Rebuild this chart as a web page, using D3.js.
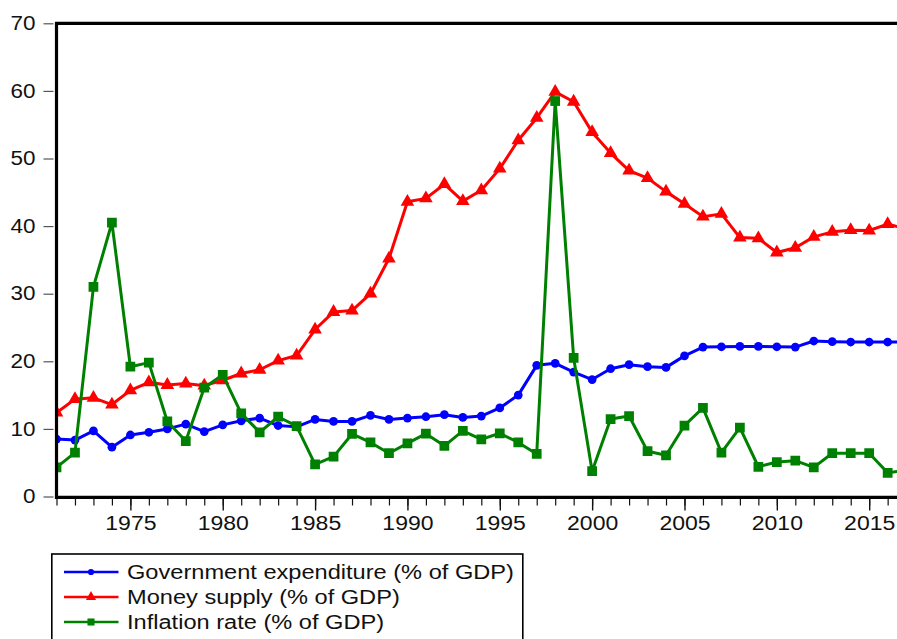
<!DOCTYPE html>
<html>
<head>
<meta charset="utf-8">
<script src="https://cdn.jsdelivr.net/npm/d3@7"></script>
<style>
  body { margin: 0; background: #fff; }
  svg { display: block; font-family: "Liberation Sans", Arial, sans-serif; }
</style>
</head>
<body>
<div id="chart"></div>
<script>
var years = [1971, 1972, 1973, 1974, 1975, 1976, 1977, 1978, 1979, 1980,
    1981, 1982, 1983, 1984, 1985, 1986, 1987, 1988, 1989, 1990,
    1991, 1992, 1993, 1994, 1995, 1996, 1997, 1998, 1999, 2000,
    2001, 2002, 2003, 2004, 2005, 2006, 2007, 2008, 2009, 2010,
    2011, 2012, 2013, 2014, 2015, 2016, 2017];

var govExpenditure = [8.5, 8.35, 9.7, 7.3, 9.1, 9.5, 10.0, 10.7, 9.6, 10.6,
    11.2, 11.6, 10.5, 10.3, 11.4, 11.1, 11.1, 12.0, 11.4, 11.6,
    11.8, 12.1, 11.7, 11.9, 13.1, 15.0, 19.4, 19.7, 18.4, 17.3,
    18.9, 19.5, 19.2, 19.1, 20.8, 22.1, 22.15, 22.2, 22.2, 22.15,
    22.1, 23.0, 22.9, 22.85, 22.85, 22.85, 22.85];

var moneySupply = [12.4, 14.4, 14.6, 13.6, 15.7, 16.9, 16.5, 16.7, 16.4, 17.2,
    18.2, 18.75, 20.1, 20.85, 24.7, 27.3, 27.5, 30.0, 35.2, 43.6,
    44.1, 46.2, 43.7, 45.3, 48.5, 52.7, 56.0, 59.85, 58.4, 53.9,
    50.8, 48.2, 47.1, 45.1, 43.3, 41.4, 41.8, 38.3, 38.2, 36.1,
    36.8, 38.4, 39.15, 39.4, 39.35, 40.3, 39.6];

var inflation = [4.3, 6.5, 31.0, 40.5, 19.2, 19.8, 11.1, 8.2, 16.1, 18.0,
    12.3, 9.5, 11.8, 10.4, 4.75, 5.9, 9.25, 8.0, 6.4, 7.85,
    9.3, 7.5, 9.7, 8.45, 9.35, 8.0, 6.3, 58.5, 20.5, 3.75,
    11.45, 11.9, 6.7, 6.1, 10.5, 13.1, 6.5, 10.2, 4.4, 5.1,
    5.3, 4.3, 6.4, 6.4, 6.4, 3.5, 3.9];

var yTicks = [0, 10, 20, 30, 40, 50, 60, 70];
var xMajorTicks = [1975, 1980, 1985, 1990, 1995, 2000, 2005, 2010, 2015];

var seriesNames = ['Government expenditure (% of GDP)', 'Money supply (% of GDP)', 'Inflation rate (% of GDP)'];
var seriesColors = ['#0000ff', '#ff0000', '#008000'];
var seriesSymbols = [d3.symbolCircle, d3.symbolTriangle, d3.symbolSquare];
var seriesValues = [govExpenditure, moneySupply, inflation];

var width = 897, height = 639;
var plot = { left: 56.5, top: 23.3, bottom: 496.5 };
var yearStep = 18.47;

// the reference text is drawn a bit wider than Arial
function widen(stretch) {
    return function (sel) {
        sel.each(function () {
            var len = this.getComputedTextLength();
            d3.select(this).attr('textLength', len * stretch).attr('lengthAdjust', 'spacingAndGlyphs');
        });
    };
}

function createChart() {
    var svg = d3.select('#chart').append('svg')
        .attr('width', width)
        .attr('height', height);

    var x = d3.scaleLinear()
        .domain([years[0], years[years.length - 1]])
        .range([plot.left, plot.left + (years.length - 1) * yearStep]);
    var y = d3.scaleLinear()
        .domain([0, 70])
        .range([plot.bottom, plot.top]);

    svg.append('clipPath').attr('id', 'plotClip')
        .append('rect')
        .attr('x', plot.left).attr('y', 0)
        .attr('width', width).attr('height', plot.bottom + 2);

    // y axis ticks and labels
    var yAxis = svg.append('g')
        .attr('transform', 'translate(53.5,0)')
        .call(d3.axisLeft(y).tickValues(yTicks).tickSize(10).tickPadding(8).tickFormat(d3.format('d')));
    yAxis.select('.domain').remove();
    yAxis.selectAll('line').attr('stroke', '#555').attr('stroke-width', 1.2);
    yAxis.selectAll('text')
        .attr('fill', '#111')
        .style('font-size', '19.5px')
        .style('font-family', '"Liberation Sans", Arial, sans-serif')
        .call(widen(1.15));

    // x axis: minor ticks every year, major every five years
    var xMinor = svg.append('g')
        .attr('transform', 'translate(0,' + (plot.bottom + 1) + ')')
        .call(d3.axisBottom(x).tickValues(years).tickSize(8).tickFormat(''));
    xMinor.select('.domain').remove();
    xMinor.selectAll('line').attr('stroke', '#111').attr('stroke-width', 1.2);

    var xMajor = svg.append('g')
        .attr('transform', 'translate(0,' + (plot.bottom + 1) + ')')
        .call(d3.axisBottom(x).tickValues(xMajorTicks).tickSize(13).tickPadding(6).tickFormat(d3.format('d')));
    xMajor.select('.domain').remove();
    xMajor.selectAll('line').attr('stroke', '#111').attr('stroke-width', 1.4);
    xMajor.selectAll('text')
        .attr('fill', '#111')
        .style('font-size', '19.5px')
        .style('font-family', '"Liberation Sans", Arial, sans-serif')
        .call(widen(1.18));

    // series
    var area = svg.append('g').attr('clip-path', 'url(#plotClip)');
    var markerSizes = [60, 80, 95];

    seriesValues.forEach(function (values, i) {
        var points = values.map(function (v, k) { return { year: years[k], value: v }; });
        var line = d3.line()
            .x(function (d) { return x(d.year); })
            .y(function (d) { return y(d.value); });

        area.append('path')
            .datum(points)
            .attr('fill', 'none')
            .attr('stroke', seriesColors[i])
            .attr('stroke-width', 3)
            .attr('stroke-linejoin', 'round')
            .attr('d', line);

        area.selectAll('.mark' + i)
            .data(points)
            .enter().append('path')
            .attr('class', 'mark' + i)
            .attr('fill', seriesColors[i])
            .attr('transform', function (d) {
                return 'translate(' + x(d.year) + ',' + y(d.value) + ')';
            })
            .attr('d', d3.symbol().type(seriesSymbols[i]).size(markerSizes[i]));
    });

    // frame: left, top, bottom
    svg.append('path')
        .attr('fill', 'none')
        .attr('stroke', '#000')
        .attr('stroke-width', 3.2)
        .attr('d', 'M' + width + ',' + plot.top + 'H' + plot.left + 'V' + (plot.bottom + 0.8) + 'H' + width);

    // legend
    var legend = svg.append('g');
    legend.append('rect')
        .attr('x', 51.8).attr('y', 554)
        .attr('width', 471).attr('height', 120)
        .attr('fill', '#fff')
        .attr('stroke', '#000')
        .attr('stroke-width', 1.6);

    var legendSizes = [30, 45, 50];
    seriesNames.forEach(function (name, i) {
        var rowY = 572 + i * 25;
        legend.append('line')
            .attr('x1', 64).attr('x2', 118.5)
            .attr('y1', rowY).attr('y2', rowY)
            .attr('stroke', seriesColors[i])
            .attr('stroke-width', 2.5);
        legend.append('path')
            .attr('fill', seriesColors[i])
            .attr('transform', 'translate(91,' + rowY + ')')
            .attr('d', d3.symbol().type(seriesSymbols[i]).size(legendSizes[i]));
        legend.append('text')
            .attr('x', 127)
            .attr('y', rowY)
            .attr('dy', '0.36em')
            .attr('fill', '#111')
            .style('font-size', '19.5px')
            .text(name)
            .call(widen(1.21));
    });
}

createChart();
</script>
</body>
</html>
